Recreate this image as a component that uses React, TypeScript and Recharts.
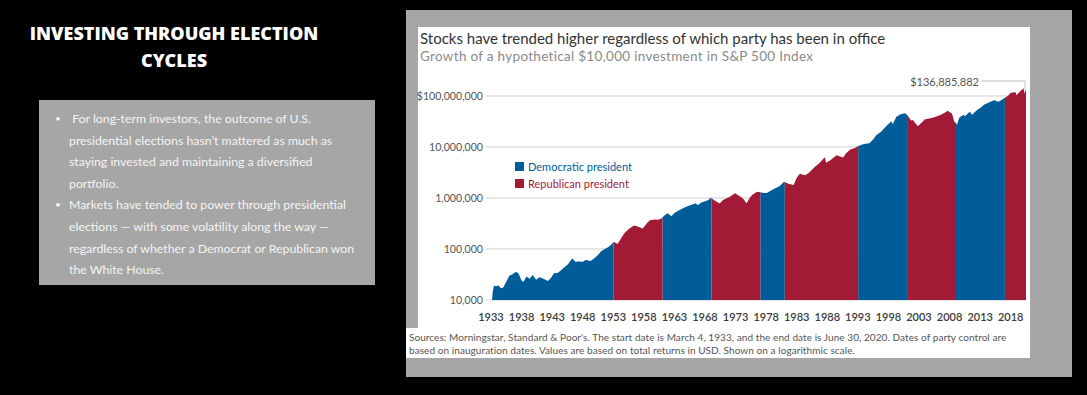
import { AreaChart, Area, XAxis, YAxis, CartesianGrid, ReferenceDot } from "recharts";

// growth of $10,000 in the S&P 500 (year, dollars)
const years = [
  1933.17, 1933.3, 1933.5, 1933.9, 1934.2, 1934.6, 1935.0, 1935.5, 1936.0, 1936.5,
  1937.1, 1937.5, 1938.0, 1938.3, 1938.8, 1939.3, 1939.8, 1940.4, 1940.9, 1941.5,
  1942.3, 1942.8, 1943.3, 1943.9, 1944.4, 1945.0, 1945.6, 1946.3, 1946.8, 1947.4,
  1948.0, 1948.5, 1949.3, 1949.9, 1950.5, 1951.0, 1951.6, 1952.2, 1952.7, 1953.05,
  1953.7, 1954.3, 1954.9, 1955.7, 1956.4, 1957.0, 1957.8, 1958.5, 1959.0, 1959.7,
  1960.3, 1960.8, 1961.05, 1961.6, 1961.9, 1962.5, 1963.0, 1963.7, 1964.4, 1965.1,
  1965.8, 1966.5, 1966.8, 1967.4, 1967.9, 1968.5, 1968.9, 1969.05, 1969.5, 1970.4,
  1970.9, 1971.5, 1972.0, 1972.9, 1973.5, 1974.2, 1974.8, 1975.3, 1975.7, 1976.5,
  1977.05, 1977.6, 1978.1, 1978.8, 1979.5, 1980.1, 1980.9, 1981.05, 1981.6, 1982.5,
  1983.0, 1983.5, 1984.4, 1985.1, 1985.9, 1986.6, 1987.6, 1987.8, 1988.5, 1989.5,
  1990.6, 1991.0, 1991.7, 1992.5, 1993.05, 1994.0, 1994.9, 1995.6, 1996.0, 1996.8,
  1997.7, 1998.5, 1998.7, 1999.3, 2000.0, 2000.7, 2001.05, 2001.7, 2002.0, 2002.8,
  2003.4, 2004.0, 2004.7, 2005.5, 2006.4, 2007.2, 2007.7, 2008.4, 2008.8, 2009.05,
  2009.2, 2009.6, 2010.3, 2010.5, 2011.3, 2011.7, 2012.4, 2013.0, 2013.7, 2014.5,
  2015.4, 2015.7, 2016.1, 2016.8, 2017.05, 2017.6, 2018.0, 2018.8, 2018.95, 2019.5,
  2020.1, 2020.25, 2020.5,
];
const values = [
  10000, 15000, 19000, 18500, 19500, 17000, 17500, 22800, 30000, 32000,
  36000, 33000, 24000, 22500, 29000, 26000, 31000, 25000, 28000, 26500,
  23500, 27000, 33500, 34000, 38000, 44000, 50000, 66000, 56000, 57000,
  56000, 61000, 58000, 66000, 76000, 90000, 100000, 110000, 122000, 138000,
  126000, 165000, 210000, 255000, 290000, 275000, 252000, 320000, 365000, 380000,
  375000, 390000, 420000, 480000, 500000, 440000, 510000, 570000, 630000, 690000,
  740000, 790000, 720000, 820000, 850000, 900000, 1000000, 1000000, 900000, 780000,
  900000, 990000, 1050000, 1240000, 1120000, 980000, 790000, 1000000, 1140000, 1320000,
  1300000, 1250000, 1250000, 1400000, 1550000, 1680000, 2050000, 2050000, 1900000, 1800000,
  2500000, 3000000, 2800000, 3200000, 4000000, 4700000, 6300000, 4900000, 5500000, 6900000,
  6200000, 7400000, 8800000, 9500000, 10500000, 11500000, 11800000, 14500000, 17000000, 20000000,
  26000000, 32000000, 28000000, 39000000, 44000000, 46000000, 43000000, 33000000, 34000000, 25500000,
  30000000, 35000000, 36000000, 38500000, 42000000, 47000000, 51500000, 45000000, 31000000, 30000000,
  27000000, 38000000, 43000000, 40000000, 49000000, 43000000, 52000000, 58000000, 68000000, 75000000,
  83000000, 78000000, 78000000, 88000000, 92600000, 102000000, 116000000, 118000000, 103000000, 122000000,
  141000000, 112000000, 136885882,
];

// party in the White House, by inauguration date
const termStarts = [1933.17, 1953.05, 1961.05, 1969.05, 1977.05, 1981.05, 1993.05, 2001.05, 2009.05, 2017.05];
const termEnds = [1953.05, 1961.05, 1969.05, 1977.05, 1981.05, 1993.05, 2001.05, 2009.05, 2017.05, 2020.5];
const termParty = ["D", "R", "D", "R", "D", "R", "D", "R", "D", "R"];

const xTicks = [1933, 1938, 1943, 1948, 1953, 1958, 1963, 1968, 1973, 1978, 1983, 1988, 1993, 1998, 2003, 2008, 2013, 2018];
const yTicks = [10000, 100000, 1000000, 10000000, 100000000];

const endYear = 2020.5;
const endValue = 136885882;

const BLUE = "#015d9a";
const RED = "#a31a37";

const inParty = (yr: number, party: string) =>
  termStarts.some((s, i) => termParty[i] === party && yr >= s && yr <= termEnds[i]);

const data = years.map((yr, i) => ({
  year: yr,
  dem: inParty(yr, "D") ? values[i] : null,
  rep: inParty(yr, "R") ? values[i] : null,
}));

const fmtY = (v: number) => (v === 100000000 ? "$100,000,000" : v.toLocaleString("en-US"));

const bullets = [
  [" For long-term investors, the outcome of U.S.", "presidential elections hasn’t mattered as much as", "staying invested and maintaining a diversified", "portfolio."],
  ["Markets have tended to power through presidential", "elections — with some volatility along the way —", "regardless of whether a Democrat or Republican won", "the White House."],
];

const chartFont = "Lato, 'Open Sans', sans-serif";

function Callout(props: any) {
  const { cx, cy } = props;
  return (
    <g>
      <polyline points={`${cx - 44},${cy - 8} ${cx - 1},${cy - 8} ${cx - 1},${cy}`} fill="none" stroke="#bdbdbd" strokeWidth={1} />
      <text x={cx - 47} y={cy - 3.5} textAnchor="end" fontSize={11} fill="#555" fontFamily={chartFont}>
        $136,885,882
      </text>
    </g>
  );
}

export default function App() {
  let line = 0;
  return (
    <div style={{ position: "absolute", left: 0, top: 0, width: 1087, height: 395, background: "#000", overflow: "hidden" }}>
      <div style={{
        position: "absolute", left: 20, top: 20, width: 308, textAlign: "center", color: "#fff",
        fontFamily: "'Open Sans', sans-serif", fontWeight: 800, fontSize: 18, lineHeight: "27px",
      }}>
        INVESTING THROUGH ELECTION<br />CYCLES
      </div>

      <div style={{ position: "absolute", left: 39, top: 100, width: 336, height: 185, background: "#a6a6a6" }}>
        {bullets.map((b, bi) => b.map((t, li) => {
          const top = 8 + 21.6 * line++;
          return (
            <div key={`${bi}-${li}`} style={{ position: "absolute", left: 0, top, width: 336, height: 21.6, fontFamily: chartFont, fontSize: 12.3, lineHeight: "21.6px", color: "#f4f4f4" }}>
              {li === 0 && <span style={{ position: "absolute", left: 16, fontSize: 10 }}>•</span>}
              <span style={{ position: "absolute", left: 30, whiteSpace: "pre" }}>{t}</span>
            </div>
          );
        }))}
      </div>

      <div style={{ position: "absolute", left: 406, top: 10, width: 666, height: 367, background: "#a6a6a6" }} />
      <div style={{ position: "absolute", left: 418, top: 27, width: 612, height: 331, background: "#fff" }} />
      <div style={{ position: "absolute", left: 406, top: 328, width: 14, height: 30, background: "#fff" }} />

      <div style={{ position: "absolute", left: 420, top: 29, fontFamily: chartFont, fontSize: 15, color: "#333", whiteSpace: "nowrap", lineHeight: "18px" }}>
        Stocks have trended higher regardless of which party has been in office
      </div>
      <div style={{ position: "absolute", left: 420, top: 48, fontFamily: chartFont, fontSize: 13.5, letterSpacing: 0.3, color: "#8a8a8a", whiteSpace: "nowrap", lineHeight: "16px" }}>
        Growth of a hypothetical $10,000 investment in S&amp;P 500 Index
      </div>

      <div style={{ position: "absolute", left: 406, top: 27 }}>
        <AreaChart width={624} height={331} data={data} margin={{ top: 60, right: 4, bottom: 0, left: 0 }}>
          <CartesianGrid vertical={false} stroke="#cfcfcf" horizontalValues={yTicks} />
          <XAxis
            dataKey="year" type="number" domain={[1933, endYear]} ticks={xTicks} interval={0}
            axisLine={false} tickLine={false} tickSize={6} tickMargin={7} height={58}
            tick={{ fontSize: 11, fill: "#3a3a3a", fontFamily: chartFont, fontWeight: 600 }}
          />
          <YAxis
            scale="log" domain={[10000, 150000000]} ticks={yTicks} allowDataOverflow width={85}
            axisLine={false} tickLine={{ stroke: "#cfcfcf" }} tickSize={5} tickMargin={3}
            tickFormatter={fmtY} tick={{ fontSize: 10.6, fill: "#555", fontFamily: chartFont }}
          />
          <Area dataKey="dem" type="linear" stroke="none" fill={BLUE} fillOpacity={1} baseValue={10000} isAnimationActive={false} />
          <Area dataKey="rep" type="linear" stroke="none" fill={RED} fillOpacity={1} baseValue={10000} isAnimationActive={false} />
          <ReferenceDot x={endYear} y={endValue} r={0} shape={Callout} />
        </AreaChart>
      </div>

      <div style={{ position: "absolute", left: 515, top: 158, fontFamily: chartFont, fontSize: 11, lineHeight: "17px" }}>
        <div style={{ display: "flex", alignItems: "center", color: BLUE }}>
          <span style={{ width: 9, height: 9, background: BLUE, marginRight: 4 }} />Democratic president
        </div>
        <div style={{ display: "flex", alignItems: "center", color: RED }}>
          <span style={{ width: 9, height: 9, background: RED, marginRight: 4 }} />Republican president
        </div>
      </div>

      <div style={{ position: "absolute", left: 409, top: 331, fontFamily: chartFont, fontSize: 10, letterSpacing: 0.07, color: "#555", lineHeight: "13.3px", whiteSpace: "nowrap" }}>
        Sources: Morningstar, Standard &amp; Poor's. The start date is March 4, 1933, and the end date is June 30, 2020. Dates of party control are<br />
        based on inauguration dates. Values are based on total returns in USD. Shown on a logarithmic scale.
      </div>
    </div>
  );
}
